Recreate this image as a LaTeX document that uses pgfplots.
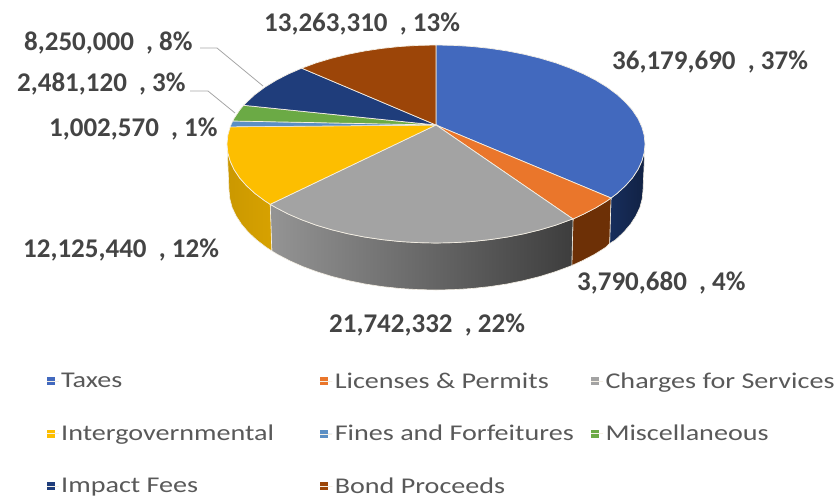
\documentclass[border=0pt]{standalone}
\usepackage{fontspec}
\setmainfont{Carlito}
\newfontfamily\legfont[FakeStretch=1.25]{Carlito}
\usepackage{pgfplots}
\pgfplotsset{compat=1.18}

\definecolor{taxes}{HTML}{4269BE}
\definecolor{licenses}{HTML}{EA762B}
\definecolor{charges}{HTML}{A3A3A3}
\definecolor{intergov}{HTML}{FDBE00}
\definecolor{fines}{HTML}{5B8FC4}
\definecolor{misc}{HTML}{6BAA45}
\definecolor{impact}{HTML}{1F3D7B}
\definecolor{bond}{HTML}{9C4508}
\definecolor{labeltxt}{HTML}{444444}
\definecolor{legtxt}{HTML}{595959}
\definecolor{edge}{HTML}{F4EFE4}

\newcommand{\lab}[3]{\node[anchor=west,inner sep=0pt,text=labeltxt,font=\fontsize{27}{30}\selectfont\bfseries] at (axis cs:#1,#2) {#3};}

\begin{document}
\begin{tikzpicture}
\begin{axis}[
    at={(0pt,0pt)}, anchor=south west,
    width=838pt, height=499pt, scale only axis,
    xmin=0, xmax=838, ymin=0, ymax=499,
    y dir=reverse,
    hide axis, clip=false,
    legend columns=3,
    legend cell align=left,
    legend image code/.code={\fill[#1,draw=none] (0pt,-4pt) rectangle (8pt,4pt); \path (0pt,0pt) -- (12pt,0pt);},
    legend style={
        at={(0.0555,0.004)}, anchor=south west,
        draw=none, fill=none, inner sep=0pt, outer sep=0pt,
        font=\legfont\fontsize{22.5}{25}\selectfont,
        text=legtxt,
        row sep=31.5pt,
        /tikz/column 2/.style={column sep=44pt},
        /tikz/column 4/.style={column sep=15pt},
    },
]
% side walls, back to front
\addplot[forget plot, draw=edge, line width=0.6pt, left color=impact!75!black, right color=impact!55!black] coordinates {
    (645,144) (644.2,152.6) (641.8,161.2) (637.9,169.6) (632.4,177.9) (625.4,185.8) (617,193.5) (611,198)
    (609.6,243.5) (615.3,240) (623.6,232.3) (630.5,224.2) (635.9,215.9) (639.9,207.4) (642.2,198.7) (643,190)
} -- cycle;
\addplot[forget plot, draw=edge, line width=0.6pt, fill=bond!70!black] coordinates {
    (611,198) (607.2,200.8) (596.1,207.6) (583.8,214) (573,219)
    (571.8,265.5) (582.4,260.7) (594.6,254.3) (605.6,247.4) (609.6,243.5)
} -- cycle;
\addplot[forget plot, draw=edge, line width=0.6pt, left color=black!42, middle color=black!62, right color=black!76] coordinates {
    (573,219) (570.3,219.8) (555.9,225.1) (540.5,229.7) (524.3,233.7) (507.5,237) (490.1,239.6) (472.3,241.5)
    (454.2,242.6) (436,243) (417.8,242.6) (399.7,241.5) (381.9,239.6) (364.5,237) (347.7,233.7) (331.5,229.7)
    (316.1,225.1) (301.7,219.8) (288.2,214) (275.9,207.6) (270.2,204.3)
    (271.8,250.9) (277.4,254.3) (289.6,260.7) (302.9,266.6) (317.3,271.9) (332.5,276.6) (348.5,280.6) (365.2,284)
    (382.4,286.6) (400.1,288.5) (418,289.6) (436,290) (454,289.6) (471.9,288.5) (489.6,286.6) (506.8,284)
    (523.5,280.6) (539.5,276.6) (554.7,271.9) (569.1,266.6) (571.8,265.5)
} -- cycle;
\addplot[forget plot, draw=edge, line width=0.6pt, left color=intergov!80!black, right color=intergov!85!black] coordinates {
    (270.2,204.3) (264.8,200.8) (255,193.5) (246.6,185.8) (239.6,177.9) (234.1,169.6) (230.2,161.2) (227.8,152.6) (227,144)
    (229,190) (229.8,198.7) (232.1,207.4) (236.1,215.9) (241.5,224.2) (248.4,232.3) (256.7,240) (266.4,247.4) (271.8,250.9)
} -- cycle;

% top face
\addplot[draw=edge, line width=0.7pt, fill=taxes] coordinates {
    (436,125) (436,45) (454.2,45.4) (472.3,46.5) (490.1,48.4) (507.5,51) (524.3,54.3) (540.5,58.3) (555.9,62.9)
    (570.3,68.2) (583.8,74) (596.1,80.4) (607.2,87.2) (617,94.5) (625.4,102.2) (632.4,110.1) (637.9,118.4)
    (641.8,126.8) (644.2,135.4) (645,144) (644.2,152.6) (641.8,161.2) (637.9,169.6) (632.4,177.9) (625.4,185.8)
    (617,193.5) (611,198)
} -- cycle;
\addlegendentry{Taxes}
\addplot[draw=edge, line width=0.7pt, fill=licenses] coordinates {
    (436,125) (611,198) (607.2,200.8) (596.1,207.6) (583.8,214) (573,219)
} -- cycle;
\addlegendentry{Licenses \& Permits}
\addplot[draw=edge, line width=0.7pt, fill=charges] coordinates {
    (436,125) (573,219) (570.3,219.8) (555.9,225.1) (540.5,229.7) (524.3,233.7) (507.5,237) (490.1,239.6) (472.3,241.5)
    (454.2,242.6) (436,243) (417.8,242.6) (399.7,241.5) (381.9,239.6) (364.5,237) (347.7,233.7) (331.5,229.7)
    (316.1,225.1) (301.7,219.8) (288.2,214) (275.9,207.6) (270.2,204.3)
} -- cycle;
\addlegendentry{Charges for Services}
\addplot[draw=edge, line width=0.7pt, fill=intergov] coordinates {
    (436,125) (270.2,204.3) (264.8,200.8) (255,193.5) (246.6,185.8) (239.6,177.9) (234.1,169.6) (230.2,161.2)
    (227.8,152.6) (227,144) (227.8,135.4) (230.2,126.8)
} -- cycle;
\addlegendentry{Intergovernmental}
\addplot[draw=edge, line width=0.5pt, fill=fines] coordinates {
    (436,125) (230.2,126.8) (232.8,121)
} -- cycle;
\addlegendentry{Fines and Forfeitures}
\addplot[draw=edge, line width=0.7pt, fill=misc] coordinates {
    (436,125) (232.8,121) (234.1,118.4) (239.6,110.1) (243.6,105.3)
} -- cycle;
\addlegendentry{Miscellaneous}
\addplot[draw=edge, line width=0.7pt, fill=impact] coordinates {
    (436,125) (243.6,105.3) (246.6,102.2) (255,94.5) (264.8,87.2) (275.9,80.4) (288.2,74) (301.7,68.2)
} -- cycle;
\addlegendentry{Impact Fees}
\addplot[draw=edge, line width=0.7pt, fill=bond] coordinates {
    (436,125) (301.7,68.2) (316.1,62.9) (331.5,58.3) (347.7,54.3) (364.5,51) (381.9,48.4) (399.7,46.5) (417.8,45.4) (436,45)
} -- cycle;
\addlegendentry{Bond Proceeds}

% leader lines
\addplot[forget plot, draw=black!35, line width=0.8pt] coordinates {(200,48) (217,48) (263,86)};
\addplot[forget plot, draw=black!35, line width=0.8pt] coordinates {(190,91) (208,91) (235,113)};

\lab{264}{24}{13,263,310\ \ , 13\%}
\lab{612}{62}{36,179,690\ \ , 37\%}
\lab{24}{43}{8,250,000\ \ , 8\%}
\lab{17}{84}{2,481,120\ \ , 3\%}
\lab{49}{129}{1,002,570\ \ , 1\%}
\lab{23}{250}{12,125,440\ \ , 12\%}
\lab{329}{325}{21,742,332\ \ , 22\%}
\lab{577}{283}{3,790,680\ \ , 4\%}
\end{axis}
\path[use as bounding box] (0,0) rectangle (838pt,499pt);
\end{tikzpicture}
\end{document}
